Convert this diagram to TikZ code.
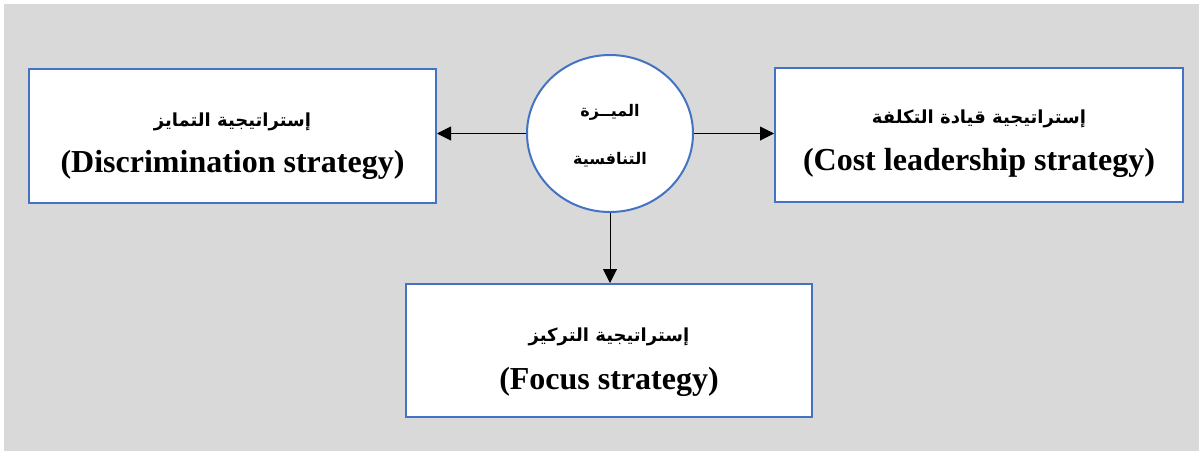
\documentclass[tikz,border=0pt]{standalone}
\usepackage{fontspec}
\setmainfont{Liberation Serif}
\newfontfamily\arabicfont[Script=Arabic]{DejaVu Sans}
\TeXXeTstate=1
\usetikzlibrary{arrows.meta,shapes.geometric}
\definecolor{panel}{RGB}{217,217,217}
\definecolor{frameblue}{RGB}{68,114,196}
\tikzset{
  stratbox/.style={draw=frameblue, line width=2pt, fill=white, rectangle,
    inner sep=0pt, minimum width=#1, minimum height=134pt},
  core/.style={draw=frameblue, line width=2pt, fill=white, ellipse,
    inner sep=0pt, minimum width=166pt, minimum height=157pt},
  artext/.style={anchor=base, inner sep=0pt,
    font=\arabicfont\bfseries\fontsize{18}{22}\selectfont},
  entext/.style={anchor=base, inner sep=0pt,
    font=\bfseries\fontsize{32}{38}\selectfont},
  coretext/.style={anchor=base, inner sep=0pt,
    font=\arabicfont\bfseries\fontsize{16}{20}\selectfont},
  link/.style={line width=1pt, -{Triangle[length=14pt,width=14pt]}}
}
\begin{document}
\begin{tikzpicture}[x=1pt,y=-1pt]
  \useasboundingbox (0,0) rectangle (1199,451);
  \fill[panel] (4,4) rectangle (1199,451);

  % central concept
  \node[core] (adv) at (610,133.5) {};
  \node[coretext] (advA) at (610,116) {\beginR الميــزة\endR};
  \node[coretext] (advB) at (610,164) {\beginR التنافسية\endR};

  % the three generic strategies
  \node[stratbox=407pt] (diff) at (232.5,136) {};
  \node[artext] (diffA) at (232.5,126) {\beginR إستراتيجية التمايز\endR};
  \node[entext] (diffE) at (232.5,172) {(Discrimination strategy)};

  \node[stratbox=408pt] (cost) at (979,135) {};
  \node[artext] (costA) at (979,123) {\beginR إستراتيجية قيادة التكلفة\endR};
  \node[entext] (costE) at (979,170) {(Cost leadership strategy)};

  \node[stratbox=406pt, minimum height=133pt] (focus) at (609,350.5) {};
  \node[artext] (focusA) at (609,341) {\beginR إستراتيجية التركيز\endR};
  \node[entext] (focusE) at (609,389) {(Focus strategy)};

  % connectors
  \draw[link] (adv.west) -- (adv.west -| diff.east);
  \draw[link] (adv.east) -- (adv.east -| cost.west);
  \draw[link] (adv.south) -- (adv.south |- focus.north);
\end{tikzpicture}
\end{document}
